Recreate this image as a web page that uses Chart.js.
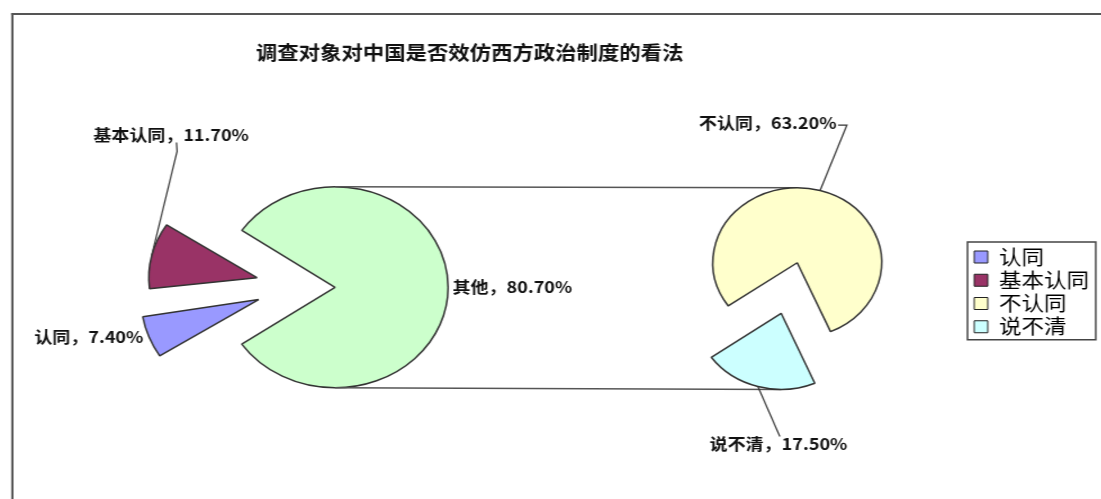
<!DOCTYPE html>
<html lang="zh">
<head>
<meta charset="utf-8">
<title>调查对象对中国是否效仿西方政治制度的看法</title>
<script src="https://cdn.jsdelivr.net/npm/chart.js@4.4.1/dist/chart.umd.min.js"></script>
<style>
  html, body { margin: 0; padding: 0; background: #fff; overflow: hidden; }
  /* the original picture is stretched sideways, so the whole stage is too */
  #stage { position: relative; width: 990px; height: 499px; transform: scaleX(1.125); transform-origin: 0 0; }
  #stage canvas { position: absolute; left: 0; top: 0; }
  #stage #mainPie { left: -12px; }
  #frame { position: absolute; left: 10px; top: 13px; right: 0; bottom: -5px;
           border-left: 2px solid #555; border-top: 2px solid #555; }
</style>
</head>
<body>
<div id="stage">
  <div id="frame"></div>
  <canvas id="mainPie" width="990" height="499"></canvas>
  <canvas id="splitPie" width="990" height="499"></canvas>
  <canvas id="sidePie" width="990" height="499"></canvas>
</div>
<script>
// Dados
const chartTitle = '调查对象对中国是否效仿西方政治制度的看法';
const categories = ['认同', '基本认同', '不认同', '说不清'];
const shares = [7.4, 11.7, 63.2, 17.5];
const otherLabel = '其他';

const colors = ['#9999ff', '#993366', '#ffffcc', '#ccffff'];
const otherColor = '#ccffcc';
const edgeColor = '#333';
const clear = 'rgba(0,0,0,0)';

// first pie: the two small shares plus the sum of the ones shown on the second pie
const firstLabels = [categories[0], categories[1], otherLabel];
const firstValues = [shares[0], shares[1], shares[2] + shares[3]];
const secondLabels = [categories[2], categories[3]];
const secondValues = [shares[2], shares[3]];

Chart.defaults.font.family = "'Noto Sans CJK SC', 'Noto Sans', sans-serif";
Chart.defaults.color = '#222';

const labelFont = "bold 16px 'Noto Sans CJK SC', sans-serif";

// where each data label sits, relative to the middle of its slice edge
const labelLayout = {
  '认同':     { dx: -5, dy: 0, align: 'right' },
  '基本认同': { dx: -52, dy: -121, align: 'left', leader: [[22, -113], [22.5, -104]] },
  '其他':     { dx: 4, dy: 0, align: 'left' },
  '不认同':   { dx: 14.6, dy: -67.5, align: 'right', leader: [[16, -65.5], [23.8, -65.5]] },
  '说不清':   { dx: -42.8, dy: 57.5, align: 'left', leader: [[19.5, 50]] }
};

// centre, radius and mid angle of an arc, with the exploded offset taken into account
function arcGeom(el) {
  const mid = (el.startAngle + el.endAngle) / 2;
  const shift = (el.options.offset || 0) / 4;
  const fix = 1 - Math.sin(Math.min(Math.PI, el.circumference));
  return {
    cx: el.x + Math.cos(mid) * shift,
    cy: el.y + Math.sin(mid) * shift,
    r: el.outerRadius + shift * fix,
    mid
  };
}

const sliceLabels = {
  id: 'sliceLabels',
  afterDatasetsDraw(chart, args, opts) {
    const ctx = chart.ctx;
    const values = chart.data.datasets[0].data;
    chart.getDatasetMeta(0).data.forEach((el, i) => {
      if (!opts.show.includes(i)) return;
      const name = chart.data.labels[i];
      const pos = labelLayout[name];
      const g = arcGeom(el);
      const ax = g.cx + Math.cos(g.mid) * g.r;
      const ay = g.cy + Math.sin(g.mid) * g.r;
      ctx.save();
      if (pos.leader) {
        ctx.strokeStyle = '#333';
        ctx.lineWidth = 1.2;
        ctx.beginPath();
        pos.leader.forEach(([dx, dy], k) => {
          if (k === 0) ctx.moveTo(ax + dx, ay + dy);
          else ctx.lineTo(ax + dx, ay + dy);
        });
        ctx.lineTo(ax, ay);
        ctx.stroke();
      }
      ctx.font = labelFont;
      ctx.fillStyle = '#111';
      ctx.textAlign = pos.align;
      ctx.textBaseline = 'middle';
      ctx.fillText(name + '，' + values[i].toFixed(2) + '%', ax + pos.dx, ay + pos.dy);
      ctx.restore();
    });
  }
};

const legendFrame = {
  id: 'legendFrame',
  afterDraw(chart) {
    const boxes = chart.legend.legendHitBoxes;
    if (!boxes || !boxes.length) return;
    const left = Math.min(...boxes.map(b => b.left)) - 6;
    const top = Math.min(...boxes.map(b => b.top)) - 5;
    const right = Math.max(...boxes.map(b => b.left + b.width)) + 6;
    const bottom = Math.max(...boxes.map(b => b.top + b.height)) + 3;
    const ctx = chart.ctx;
    ctx.save();
    ctx.strokeStyle = '#444';
    ctx.lineWidth = 1.5;
    ctx.strokeRect(left, top, right - left, bottom - top);
    ctx.restore();
  }
};

const baseOptions = {
  responsive: false,
  animation: false,
  events: [],
  cutout: '0%',
  plugins: { legend: { display: false }, tooltip: { enabled: false }, title: { display: false } }
};

// primeira pizza: fatia "其他" e título
const mainCanvas = document.getElementById('mainPie');
const mainChart = new Chart(mainCanvas, {
  type: 'pie',
  data: {
    labels: firstLabels,
    datasets: [{
      data: firstValues,
      backgroundColor: [clear, clear, otherColor],
      borderColor: edgeColor,
      borderWidth: [0, 0, 1.5],
      radius: 100.5,
      clip: false
    }]
  },
  options: {
    ...baseOptions,
    rotation: 235.6,
    layout: { padding: { left: 0, right: 370.4, top: 0, bottom: 0 } },
    plugins: {
      ...baseOptions.plugins,
      title: {
        display: true,
        text: chartTitle,
        align: 'end',
        color: '#111',
        font: { size: 19, weight: 'bold' },
        padding: { top: 41.6, bottom: 11.2 }
      },
      sliceLabels: { show: [2] }
    }
  },
  plugins: [sliceLabels]
});

// the two small shares, pulled out of the first pie
new Chart(document.getElementById('splitPie'), {
  type: 'pie',
  data: {
    labels: firstLabels,
    datasets: [{
      data: firstValues,
      backgroundColor: [colors[0], colors[1], clear],
      borderColor: edgeColor,
      borderWidth: [1.5, 1.5, 0],
      offset: [148, 148, 0],
      radius: 84,
      clip: false
    }]
  },
  options: {
    ...baseOptions,
    rotation: 235.6,
    layout: { padding: { left: 0, right: 461.2, top: 73.6, bottom: 0 } },
    plugins: { ...baseOptions.plugins, sliceLabels: { show: [0, 1] } }
  },
  plugins: [sliceLabels]
});

// lines from the top and bottom of the first pie to the second one
const sideCanvas = document.getElementById('sidePie');
const seriesLines = {
  id: 'seriesLines',
  beforeDatasetsDraw(chart) {
    const dx = mainCanvas.offsetLeft - sideCanvas.offsetLeft;
    const big = arcGeom(mainChart.getDatasetMeta(0).data[2]);
    const side = chart.getDatasetMeta(0).data.map(arcGeom);
    const ctx = chart.ctx;
    ctx.save();
    ctx.strokeStyle = '#555';
    ctx.lineWidth = 1.5;
    ctx.beginPath();
    ctx.moveTo(big.cx + dx, big.cy - big.r);
    ctx.lineTo(side[0].cx, side[0].cy - side[0].r);
    ctx.moveTo(big.cx + dx, big.cy + big.r);
    ctx.lineTo(side[1].cx, side[1].cy + side[1].r);
    ctx.stroke();
    ctx.restore();
  }
};

// segunda pizza (direita) + legenda
new Chart(sideCanvas, {
  type: 'pie',
  data: {
    labels: secondLabels,
    datasets: [{
      data: secondValues,
      backgroundColor: [colors[2], colors[3]],
      borderColor: edgeColor,
      borderWidth: 1.5,
      offset: [0, 210],
      radius: 75,
      clip: false
    }]
  },
  options: {
    ...baseOptions,
    rotation: 234.8,
    layout: { padding: { left: 554.5, right: 12, top: 185.5, bottom: 159 } },
    plugins: {
      ...baseOptions.plugins,
      legend: {
        display: true,
        position: 'right',
        align: 'end',
        labels: {
          boxWidth: 12,
          boxHeight: 12,
          padding: 3.25,
          color: '#222',
          font: { size: 20 },
          generateLabels: () => categories.map((c, i) => ({
            text: c, fillStyle: colors[i], strokeStyle: '#222', lineWidth: 1, hidden: false, index: i
          }))
        }
      },
      sliceLabels: { show: [0, 1] }
    }
  },
  plugins: [seriesLines, sliceLabels, legendFrame]
});
</script>
</body>
</html>
